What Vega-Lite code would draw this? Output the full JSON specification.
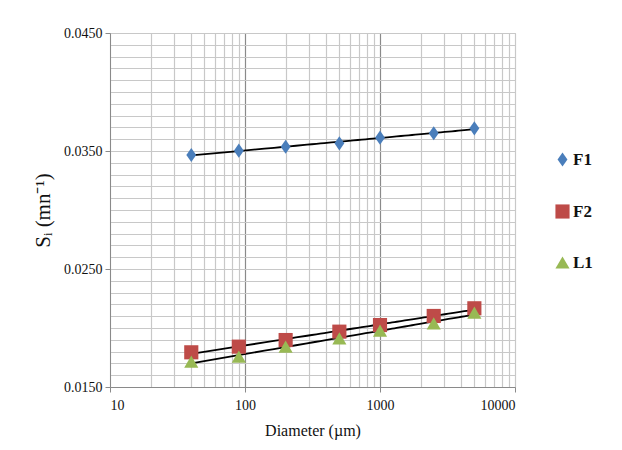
{
  "$schema": "https://vega.github.io/schema/vega-lite/v6.json",
  "width": 405,
  "height": 354,
  "autosize": {"type": "none"},
  "padding": {"left": 110, "top": 33, "right": 107, "bottom": 63},
  "background": "white",
  "config": {
    "font": "Liberation Serif",
    "view": {"stroke": "#c8c8c8", "strokeWidth": 1}
  },
  "data": {
    "values": [
      {"series": "F1", "d": 40, "s": 0.03466},
      {"series": "F1", "d": 90, "s": 0.03503},
      {"series": "F1", "d": 200, "s": 0.03536},
      {"series": "F1", "d": 500, "s": 0.03565},
      {"series": "F1", "d": 1000, "s": 0.03613},
      {"series": "F1", "d": 2500, "s": 0.0365},
      {"series": "F1", "d": 5000, "s": 0.03692},
      {"series": "F2", "d": 40, "s": 0.01794},
      {"series": "F2", "d": 90, "s": 0.01842},
      {"series": "F2", "d": 200, "s": 0.01898},
      {"series": "F2", "d": 500, "s": 0.01969},
      {"series": "F2", "d": 1000, "s": 0.02025},
      {"series": "F2", "d": 2500, "s": 0.02102},
      {"series": "F2", "d": 5000, "s": 0.02167},
      {"series": "L1", "d": 40, "s": 0.01714},
      {"series": "L1", "d": 90, "s": 0.01757},
      {"series": "L1", "d": 200, "s": 0.01842},
      {"series": "L1", "d": 500, "s": 0.01913},
      {"series": "L1", "d": 1000, "s": 0.01977},
      {"series": "L1", "d": 2500, "s": 0.0204},
      {"series": "L1", "d": 5000, "s": 0.0213}
    ]
  },
  "encoding": {
    "x": {
      "field": "d",
      "type": "quantitative",
      "scale": {"type": "log", "domain": [10, 10000], "nice": false},
      "axis": {
        "values": [10, 20, 30, 40, 50, 60, 70, 80, 90, 100, 200, 300, 400, 500, 600, 700, 800, 900, 1000, 2000, 3000, 4000, 5000, 6000, 7000, 8000, 9000, 10000],
        "format": "d",
        "labelExpr": "indexof([10,100,1000,10000], datum.value) >= 0 ? datum.label : ''",
        "grid": true,
        "gridColor": {"condition": {"test": "indexof([100,1000], datum.value) >= 0", "value": "#8a8a8a"}, "value": "#c8c8c8"},
        "gridWidth": 1.2,
        "tickOpacity": {"condition": {"test": "indexof([10,100,1000,10000], datum.value) >= 0", "value": 1}, "value": 0},
        "tickColor": "#8a8a8a",
        "tickSize": 5,
        "domainColor": "#8a8a8a",
        "labelFont": "Liberation Serif",
        "labelFontSize": 14,
        "labelColor": "#111",
        "labelPadding": 6,
        "title": "Diameter (µm)",
        "titleFont": "Liberation Serif",
        "titleFontSize": 16,
        "titleFontWeight": "normal",
        "titleColor": "#111",
        "titlePadding": 10
      }
    },
    "y": {
      "field": "s",
      "type": "quantitative",
      "scale": {"domain": [0.015, 0.045], "nice": false, "zero": false},
      "axis": {
        "values": [0.015, 0.016, 0.017, 0.018, 0.019, 0.02, 0.021, 0.022, 0.023, 0.024, 0.025, 0.026, 0.027, 0.028, 0.029, 0.03, 0.031, 0.032, 0.033, 0.034, 0.035, 0.036, 0.037, 0.038, 0.039, 0.04, 0.041, 0.042, 0.043, 0.044, 0.045],
        "format": ".4f",
        "labelExpr": "indexof(['0.0150','0.0250','0.0350','0.0450'], datum.label) >= 0 ? datum.label : ''",
        "grid": true,
        "gridColor": "#c8c8c8",
        "gridWidth": 1.2,
        "tickOpacity": {"condition": {"test": "indexof(['0.0150','0.0250','0.0350','0.0450'], format(datum.value, '.4f')) >= 0", "value": 1}, "value": 0},
        "tickColor": "#8a8a8a",
        "tickSize": 5,
        "domainColor": "#8a8a8a",
        "labelFont": "Liberation Serif",
        "labelFontSize": 14,
        "labelColor": "#111",
        "labelPadding": 3,
        "title": "Sᵢ    (mn⁻¹)",
        "titleFont": "Liberation Serif",
        "titleFontSize": 21,
        "titleFontWeight": "normal",
        "titleColor": "#111",
        "titlePadding": 10
      }
    }
  },
  "layer": [
    {
      "transform": [
        {"regression": "s", "on": "d", "groupby": ["series"], "method": "log", "extent": [40, 5000]}
      ],
      "mark": {"type": "line", "color": "black", "strokeWidth": 1.8},
      "encoding": {
        "detail": {"field": "series", "type": "nominal"}
      }
    },
    {
      "mark": {"type": "point", "filled": true, "opacity": 1, "strokeWidth": 0},
      "encoding": {
        "color": {
          "field": "series",
          "type": "nominal",
          "scale": {"domain": ["F1", "F2", "L1"], "range": ["#4a7ebb", "#be4b48", "#98b954"]},
          "legend": {
            "orient": "none",
            "legendX": 444,
            "legendY": 118,
            "title": null,
            "labelFont": "Liberation Serif",
            "labelFontSize": 17,
            "labelFontWeight": "bold",
            "labelColor": "#111",
            "labelOffset": 2,
            "rowPadding": 31,
            "symbolSize": 200,
            "symbolOpacity": 1
          }
        },
        "shape": {
          "field": "series",
          "type": "nominal",
          "scale": {"domain": ["F1", "F2", "L1"], "range": ["M0,-1L0.7,0L0,1L-0.7,0Z", "square", "triangle-up"]}
        },
        "size": {"value": 200}
      }
    }
  ]
}
